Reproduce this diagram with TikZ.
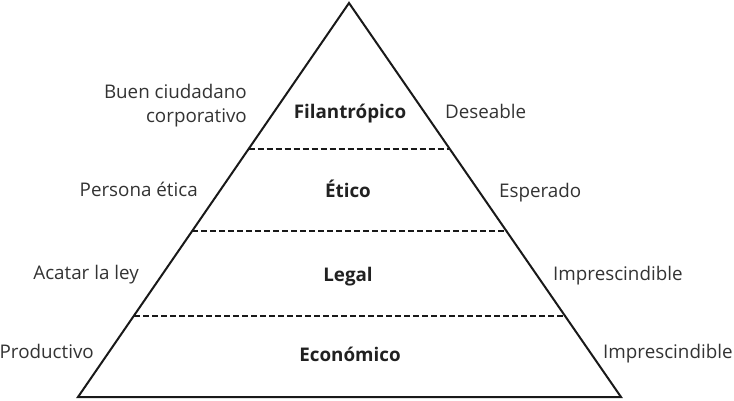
\documentclass[tikz,border=0pt]{standalone}
\usepackage{fontspec}
\setmainfont{Open Sans}
\begin{document}
\begin{tikzpicture}[x=1pt,y=-1pt,
  lbl/.style={inner sep=0pt,text=black!80,font=\fontsize{18.8}{24}\selectfont},
  lvl/.style={inner sep=0pt,anchor=base,text=black!87,font=\fontsize{18.8}{24}\selectfont\bfseries},
  sep/.style={draw=black!90,line width=1.8pt,dash pattern=on 6pt off 3pt}]
\useasboundingbox (0,0) rectangle (734,400);
\coordinate (A) at (349,3);
\coordinate (L) at (78,397);
\coordinate (R) at (621,397);
\draw[line width=2pt,line join=miter,draw=black!90] (A) -- (L) -- (R) -- cycle;
\coordinate (l1) at (248.6,149); \coordinate (r1) at (450,149);
\coordinate (l2) at (192,231); \coordinate (r2) at (507,231);
\coordinate (l3) at (134,316); \coordinate (r3) at (565,316);
\draw[sep] (l1) -- (r1);
\draw[sep] (l2) -- (r2);
\draw[sep] (l3) -- (r3);
\node[lvl] (f) at (350,118) {Filantrópico};
\node[lvl] (e) at (348,197) {Ético};
\node[lvl] (g) at (348,281) {Legal};
\node[lvl] (c) at (350,361) {Económico};
\node[lbl,anchor=base east] (bc1) at (247,98) {Buen ciudadano};
\node[lbl,anchor=base east] (bc2) at (247,122) {corporativo};
\node[lbl,anchor=base east] (pe) at (198,196) {Persona ética};
\node[lbl,anchor=base east] (al) at (139,279) {Acatar la ley};
\node[lbl,anchor=base east] (pr) at (94,358) {Productivo};
\node[lbl,anchor=base west] (de) at (445,118) {Deseable};
\node[lbl,anchor=base west] (es) at (499,197) {Esperado};
\node[lbl,anchor=base west] (i1) at (553,280) {Imprescindible};
\node[lbl,anchor=base west] (i2) at (603,358) {Imprescindible};
\end{tikzpicture}
\end{document}
